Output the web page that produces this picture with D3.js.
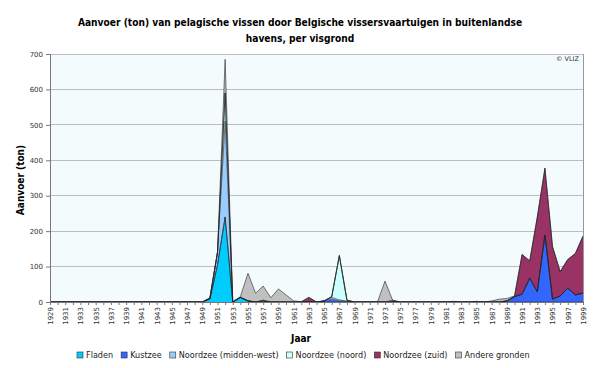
<!DOCTYPE html>
<html><head><meta charset="utf-8">
<script src="https://cdn.jsdelivr.net/npm/d3@7"></script>
<style>body{margin:0;background:#fff}svg{display:block}</style>
</head><body>
<svg id="c" width="600" height="368"></svg>
<script>
// years 1929..1999
const years = d3.range(1929, 2000);
const seriesNames = ["Fladen","Kustzee","Noordzee (midden-west)","Noordzee (noord)","Noordzee (zuid)","Andere gronden"];
const seriesColors = ["#00CCFF","#3366FF","#99CCFF","#CCFFFF","#993366","#C0C0C0"];
const yTicks = [0,100,200,300,400,500,600,700];
//                 1929-1938            1939-1948            1949-1958                     1959-1968                1969-1978            1979-1988            1989-1999
const fladen    = [0,0,0,0,0,0,0,0,0,0, 0,0,0,0,0,0,0,0,0,0, 0,8,105,240,0,13,3,0,2,0,   0,0,0,0,0,0,0,0,0,0,     0,0,0,0,0,0,0,0,0,0, 0,0,0,0,0,0,0,0,0,0, 0,0,0,0,0,0,0,0,0,0,0];
const kustzee   = [0,0,0,0,0,0,0,0,0,0, 0,0,0,0,0,0,0,0,0,0, 0,0,0,0,0,0,0,0,0,0,       0,0,0,0,0,0,3,8,3,2,     0,0,0,0,0,0,0,0,0,0, 0,0,0,0,0,0,0,0,0,0, 3,15,22,67,29,189,8,17,39,20,25];
const middenWest= [0,0,0,0,0,0,0,0,0,0, 0,0,0,0,0,0,0,0,0,0, 0,3,35,270,0,0,0,0,0,0,    0,0,0,0,0,0,0,5,3,0,     0,0,0,0,0,0,0,0,0,0, 0,0,0,0,0,0,0,0,0,0, 0,0,0,0,0,0,0,0,0,0,0];
const noord     = [0,0,0,0,0,0,0,0,0,0, 0,0,0,0,0,0,0,0,0,0, 0,0,0,80,0,0,0,0,3,0,      0,0,0,0,0,0,0,2,125,3,   0,0,0,0,0,0,0,0,0,0, 0,0,0,0,0,0,0,0,0,0, 0,0,0,0,0,0,0,0,0,0,0];
const zuid      = [0,0,0,0,0,0,0,0,0,0, 0,0,0,0,0,0,0,0,0,0, 0,0,0,0,0,0,0,0,0,0,       0,0,0,0,13,0,0,0,0,0,    0,0,0,0,0,5,0,0,0,0, 0,0,0,0,0,0,0,0,0,0, 0,0,112,49,211,188,148,69,81,117,161];
const andere    = [0,0,0,0,0,0,0,0,0,0, 0,0,0,0,0,0,0,0,0,0, 0,0,2,95,0,2,78,25,40,12,  37,20,3,1,0,0,0,0,0,0,    0,0,0,0,59,0,0,0,0,0, 0,0,0,2,0,0,2,0,3,8, 7,2,0,0,0,1,0,0,0,0,0];
const seriesValues = [fladen,kustzee,middenWest,noord,zuid,andere];

const svg = d3.select("#c");
const L=50,R=583,T=54,B=302;
const x = d3.scaleLinear().domain([1929,1999]).range([L,R]);
const y = d3.scaleLinear().domain([0,700]).range([B,T]);
const FONT = "Verdana, DejaVu Sans, sans-serif";
const BFONT = "DejaVu Sans Condensed, DejaVu Sans, sans-serif";

// plot background
svg.append("rect").attr("x",L).attr("y",T).attr("width",R-L).attr("height",B-T).attr("fill","#F3FBFD");
// grid
svg.append("g").selectAll("line").data(yTicks.filter(d=>d>0)).join("line")
  .attr("x1",L).attr("x2",R).attr("y1",d=>y(d)).attr("y2",d=>y(d))
  .attr("stroke","#BDBDBD").attr("stroke-width",1).attr("shape-rendering","crispEdges");

// stack
const table = years.map((yr,i)=>{const o={year:yr}; seriesNames.forEach((n,k)=>o[n]=seriesValues[k][i]); return o;});
const stack = d3.stack().keys(seriesNames)(table);
const area = d3.area().x(d=>x(d.data.year)).y0(d=>y(d[0])).y1(d=>y(d[1]));
const line = d3.line().x(d=>x(d.data.year)).y(d=>y(d[1]));
svg.append("g").selectAll("path").data(stack).join("path")
  .attr("d",area).attr("fill",(d,i)=>seriesColors[i]);
svg.append("g").selectAll("path").data(stack).join("path")
  .attr("d",line).attr("fill","none").attr("stroke","#222").attr("stroke-width",0.7).attr("stroke-opacity",0.85);

// right border
svg.append("line").attr("x1",R).attr("x2",R).attr("y1",T).attr("y2",B).attr("stroke","#999").attr("shape-rendering","crispEdges");

// axes
const yAxis = svg.append("g").attr("transform",`translate(${L},0)`)
  .call(d3.axisLeft(y).tickValues(yTicks).tickSize(4).tickPadding(3));
yAxis.select(".domain").attr("stroke","#777");
yAxis.selectAll("line").attr("stroke","#777");
yAxis.selectAll("text").attr("font-family",FONT).attr("font-size",7).attr("fill","#333");

const xAxis = svg.append("g").attr("transform",`translate(0,${B})`)
  .call(d3.axisBottom(x).tickValues(years).tickSize(3).tickFormat(d=> (d-1929)%2===0 ? String(d) : ""));
xAxis.select(".domain").attr("stroke","#777");
xAxis.selectAll("line").attr("stroke","#777");
xAxis.selectAll("text").attr("font-family",FONT).attr("font-size",7).attr("fill","#333")
  .attr("transform","rotate(-90)").attr("text-anchor","end").attr("x",-5).attr("y",0).attr("dy","0.35em");

// title, sized to fit reference width
const title = svg.append("text").attr("x",300).attr("text-anchor","middle")
  .attr("font-family",BFONT).attr("font-weight","bold").attr("font-size",11).attr("fill","#000");
const t1 = title.append("tspan").attr("x",300).attr("y",26).text("Aanvoer (ton) van pelagische vissen door Belgische vissersvaartuigen in buitenlandse");
title.append("tspan").attr("x",300).attr("y",42).text("havens, per visgrond");
const tw = t1.node().getComputedTextLength();
title.attr("font-size", 11*445/tw);

svg.append("text").attr("x",579).attr("y",61).attr("text-anchor","end")
  .attr("font-family",FONT).attr("font-size",6.5).attr("fill","#333").text("© VLIZ");

svg.append("text").attr("transform","translate(24,180) rotate(-90)").attr("text-anchor","middle")
  .attr("font-family",BFONT).attr("font-weight","bold").attr("font-size",10).text("Aanvoer (ton)");
svg.append("text").attr("x",301).attr("y",342).attr("text-anchor","middle")
  .attr("font-family",BFONT).attr("font-weight","bold").attr("font-size",10).text("Jaar");

// legend: laid out sequentially, fitted to reference span
const lgStart = 77, lgEnd = 530, sq = 6, sqGap = 3, itemGap = 8;
const lg = svg.append("g");
const items = lg.selectAll("g").data(seriesNames).join("g");
items.append("rect").attr("width",sq).attr("height",sq).attr("y",-6)
  .attr("fill",(d,i)=>seriesColors[i]).attr("stroke","#333").attr("stroke-width",0.6);
const ltexts = items.append("text").attr("x",sq+sqGap).attr("y",0)
  .attr("font-family",FONT).attr("font-size",8).attr("fill","#222").text(d=>d);
let widths = ltexts.nodes().map(n=>n.getComputedTextLength());
const fixed = seriesNames.length*(sq+sqGap) + (seriesNames.length-1)*itemGap;
const fs = 8*((lgEnd-lgStart)-fixed)/d3.sum(widths);
ltexts.attr("font-size",fs);
widths = ltexts.nodes().map(n=>n.getComputedTextLength());
let cx = lgStart;
items.attr("transform",(d,i)=>{const p=cx; cx += sq+sqGap+widths[i]+itemGap; return `translate(${p},358)`;});
</script>
</body></html>
